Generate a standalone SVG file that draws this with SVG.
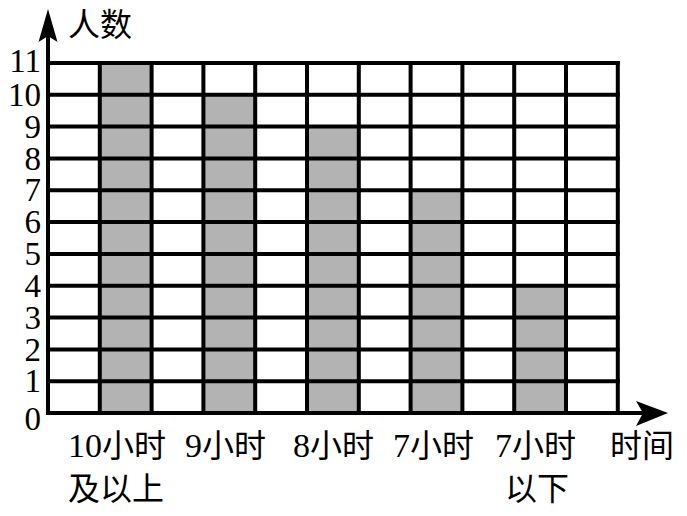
<svg xmlns="http://www.w3.org/2000/svg" width="687" height="516" viewBox="0 0 687 516">
<style>
.g{stroke:#000;stroke-width:4;fill:none;stroke-linecap:square}
.bar{fill:#b3b3b3;stroke:none}
.t{font-family:'Liberation Serif','Times New Roman',serif;font-size:34px;fill:#000}
.c{font-family:'Noto Sans CJK SC','Noto Sans CJK TC',sans-serif;font-size:32px}
.yl{text-anchor:end;font-size:33px}
</style>
<rect width="687" height="516" fill="#fff"/>
<g id="bars">
<rect class="bar" x="99.8" y="63" width="51.8" height="350"/>
<rect class="bar" x="203.4" y="94.8" width="51.8" height="318.2"/>
<rect class="bar" x="307" y="126.6" width="51.8" height="286.4"/>
<rect class="bar" x="410.6" y="190.3" width="51.8" height="222.7"/>
<rect class="bar" x="514.2" y="285.7" width="51.8" height="127.3"/>
</g>
<g id="grid" class="g">
<path d="M48 63H617.8M48 94.8H617.8M48 126.6H617.8M48 158.5H617.8M48 190.3H617.8M48 222.1H617.8M48 253.9H617.8M48 285.7H617.8M48 317.5H617.8M48 349.4H617.8M48 381.2H617.8"/>
<path d="M99.8 63V413M151.6 63V413M203.4 63V413M255.2 63V413M307 63V413M358.8 63V413M410.6 63V413M462.4 63V413M514.2 63V413M566 63V413M617.8 63V413"/>
</g>
<g id="axes">
<path class="g" d="M48 30V413H650" stroke-linecap="butt"/>
<path d="M48 9L57.5 42L48 36L38.5 42Z" fill="#000"/>
<path d="M668 413L636 401L643 413L636 426Z" fill="#000"/>
</g>
<g id="ylabels" class="t yl">
<text x="41" y="430">0</text>
<text x="41" y="392.4">1</text>
<text x="41" y="360.6">2</text>
<text x="41" y="328.7">3</text>
<text x="41" y="296.9">4</text>
<text x="41" y="265.1">5</text>
<text x="41" y="233.3">6</text>
<text x="41" y="201.1">7</text>
<text x="41" y="169.5">8</text>
<text x="41" y="137.6">9</text>
<text x="41" y="105.8">10</text>
<text x="41" y="72">11</text>
</g>
<g id="ytitle" class="t"><text x="68" y="36" class="c">人数</text></g>
<g id="xlabels" class="t">
<text x="68" y="457">10<tspan class="c">小时</tspan></text>
<text x="68" y="500" class="c">及以上</text>
<text x="185" y="457">9<tspan class="c">小时</tspan></text>
<text x="293" y="457">8<tspan class="c">小时</tspan></text>
<text x="393" y="457">7<tspan class="c">小时</tspan></text>
<text x="495" y="457">7<tspan class="c">小时</tspan></text>
<text x="505" y="500" class="c">以下</text>
<text x="610" y="457" class="c">时间</text>
</g>
</svg>
